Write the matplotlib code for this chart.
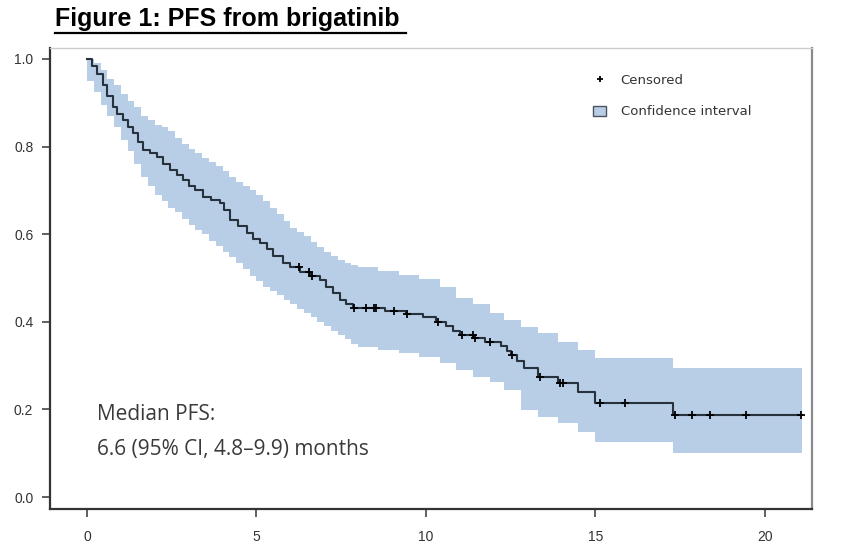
import numpy as np
import matplotlib
matplotlib.use("Agg")
import matplotlib.pyplot as plt
from matplotlib.lines import Line2D
from matplotlib.patches import Patch

# Kaplan-Meier steps (months, survival probability)
km_t = [0, 0.15, 0.3, 0.47, 0.6, 0.77, 0.9, 1.06, 1.2, 1.36, 1.5, 1.65, 1.85,
        2.06, 2.25, 2.45, 2.65, 2.83, 3.0, 3.2, 3.42, 3.65, 3.92, 4.05, 4.22,
        4.45, 4.72, 4.9, 5.1, 5.3, 5.5, 5.78, 6.0, 6.28, 6.58, 6.87, 7.05,
        7.25, 7.46, 7.65, 7.85, 8.8, 9.4, 9.9, 10.3, 10.6, 10.8, 11.0, 11.4,
        11.75, 12.2, 12.4, 12.5, 12.7, 12.9, 13.3, 13.9, 14.5, 15.0, 17.3]
km_s = [1.0, 0.985, 0.965, 0.94, 0.915, 0.89, 0.875, 0.86, 0.845, 0.83, 0.81,
        0.792, 0.785, 0.776, 0.76, 0.747, 0.735, 0.724, 0.71, 0.70, 0.685,
        0.678, 0.671, 0.655, 0.632, 0.618, 0.603, 0.59, 0.58, 0.565, 0.55,
        0.534, 0.524, 0.514, 0.505, 0.495, 0.48, 0.465, 0.45, 0.44, 0.432,
        0.425, 0.418, 0.41, 0.40, 0.39, 0.38, 0.37, 0.363, 0.354, 0.345,
        0.334, 0.324, 0.31, 0.295, 0.274, 0.26, 0.24, 0.215, 0.188]
t_end = 21.1

censor_t = [6.25, 6.55, 6.64, 7.88, 8.23, 8.47, 8.53, 9.06, 9.44, 10.35,
            11.05, 11.39, 11.45, 11.9, 12.55, 13.35, 13.95, 14.04, 15.13,
            15.87, 17.35, 17.85, 18.38, 19.44, 21.06]

# confidence band steps
ci_t = [0.0, 0.2, 0.4, 0.6, 0.8, 1.0, 1.2, 1.4, 1.6, 1.8, 2.0, 2.2, 2.4,
        2.6, 2.8, 3.0, 3.2, 3.4, 3.6, 3.8, 4.0, 4.2, 4.4, 4.6, 4.8, 5.0,
        5.2, 5.4, 5.6, 5.8, 6.0, 6.2, 6.4, 6.6, 6.8, 7.0, 7.2, 7.4, 7.6,
        7.8, 8.0, 8.6, 9.2, 9.8, 10.4, 10.9, 11.4, 11.9, 12.3, 12.8, 13.3,
        13.9, 14.5, 15.0, 17.3]
ci_hi = [1.0, 0.99, 0.975, 0.955, 0.94, 0.92, 0.905, 0.89, 0.87, 0.86,
         0.85, 0.845, 0.835, 0.82, 0.805, 0.795, 0.785, 0.775, 0.765, 0.755,
         0.745, 0.73, 0.72, 0.71, 0.70, 0.69, 0.675, 0.66, 0.645, 0.63,
         0.615, 0.605, 0.595, 0.583, 0.57, 0.56, 0.55, 0.542, 0.535, 0.53,
         0.525, 0.515, 0.507, 0.497, 0.48, 0.455, 0.44, 0.42, 0.405, 0.388,
         0.374, 0.354, 0.336, 0.317, 0.295]
ci_lo = [0.95, 0.925, 0.895, 0.87, 0.845, 0.815, 0.79, 0.76, 0.73, 0.71,
         0.69, 0.675, 0.66, 0.65, 0.635, 0.62, 0.61, 0.60, 0.585, 0.572,
         0.56, 0.548, 0.535, 0.52, 0.505, 0.492, 0.48, 0.47, 0.46, 0.45,
         0.44, 0.43, 0.42, 0.41, 0.40, 0.39, 0.38, 0.37, 0.36, 0.35,
         0.342, 0.336, 0.328, 0.32, 0.305, 0.29, 0.274, 0.263, 0.244, 0.199,
         0.183, 0.169, 0.148, 0.126, 0.10]

x_ticks = [0, 5, 10, 15, 20]
y_ticks = [0.0, 0.2, 0.4, 0.6, 0.8, 1.0]

band_color = "#b8cde6"
line_color = "#26323c"
text_color = "#333333"


def main():
    fig = plt.figure(figsize=(8.52, 5.58), dpi=100)
    ax = fig.add_axes([0.0587, 0.0878, 0.8944, 0.8262])

    ct = np.append(ci_t, t_end)
    ax.fill_between(ct, np.append(ci_lo, ci_lo[-1]), np.append(ci_hi, ci_hi[-1]),
                    step="post", color=band_color, linewidth=0)

    kt = np.append(km_t, t_end)
    ks = np.append(km_s, km_s[-1])
    ax.step(kt, ks, where="post", color=line_color, lw=1.5)

    idx = np.searchsorted(km_t, censor_t, side="right") - 1
    cs = np.array(km_s)[idx]
    ax.plot(censor_t, cs, "+", color="black", ms=6, mew=1.3)

    ax.set_xlim(-1.09, 21.39)
    ax.set_ylim(-0.0274, 1.025)
    ax.set_xticks(x_ticks)
    ax.set_yticks(y_ticks)
    ax.set_xticklabels([str(v) for v in x_ticks])
    ax.set_yticklabels([f"{v:.1f}" for v in y_ticks])
    ax.tick_params(direction="out", length=6, width=1.2, colors="#444444",
                   labelsize=10, labelcolor=text_color)
    ax.tick_params(axis="y", pad=6)
    ax.tick_params(axis="x", pad=9)
    for lab in ax.get_xticklabels() + ax.get_yticklabels():
        lab.set_family("Liberation Sans")

    for side in ["left", "bottom"]:
        ax.spines[side].set_color("#333333")
        ax.spines[side].set_linewidth(1.6)
    ax.spines["right"].set_color("#8a8a8a")
    ax.spines["right"].set_linewidth(1.6)
    ax.spines["top"].set_color("#cccccc")
    ax.spines["top"].set_linewidth(1.0)

    handles = [
        Line2D([], [], marker="+", color="black", ls="none", ms=5, mew=1.3),
        Patch(facecolor=band_color, edgecolor="#4a5560", linewidth=1.0),
    ]
    ax.legend(handles, ["Censored", "Confidence interval"], frameon=False,
              loc="upper left", bbox_to_anchor=(0.697, 0.97),
              prop={"family": "DejaVu Sans", "size": 9.5},
              labelcolor=text_color, handlelength=1.0, handleheight=0.8,
              labelspacing=1.4, handletextpad=1.1)

    ax.text(0.0617, 0.204, "Median PFS:", transform=ax.transAxes,
            family="Open Sans", fontsize=15, color="#3a3a3a", va="center")
    ax.text(0.0617, 0.130, "6.6 (95% CI, 4.8\u20139.9) months",
            transform=ax.transAxes, family="Open Sans", fontsize=15,
            color="#3a3a3a", va="center")

    title = fig.text(0.0646, 0.966, "Figure 1: PFS from brigatinib",
                     family="Liberation Sans", fontweight="bold", fontsize=18,
                     color="black", va="center")
    # underline the title
    fig.canvas.draw()
    bb = title.get_window_extent().transformed(fig.transFigure.inverted())
    fig.add_artist(Line2D([bb.x0, bb.x1 + 0.008], [bb.y0 - 0.003] * 2,
                          transform=fig.transFigure, color="black", lw=1.6))

    fig.savefig("out.png", dpi=100)


if __name__ == "__main__":
    main()
